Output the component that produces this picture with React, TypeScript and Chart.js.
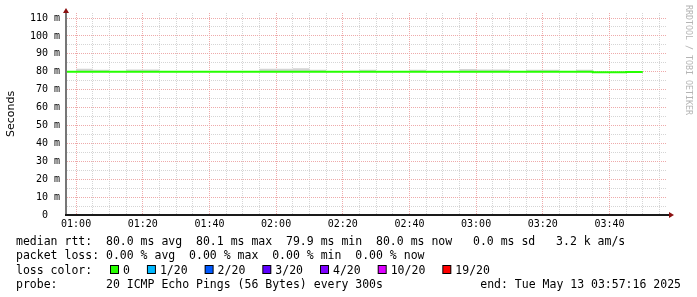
import React, { useEffect, useRef } from 'react';
import { Chart, registerables } from 'chart.js';

Chart.register(...registerables);

// ---- data ----
const timeLabels = [
  '00:55', '01:00', '01:05', '01:10', '01:15', '01:20', '01:25', '01:30', '01:35', '01:40', '01:45', '01:50',
  '01:55', '02:00', '02:05', '02:10', '02:15', '02:20', '02:25', '02:30', '02:35', '02:40', '02:45', '02:50',
  '02:55', '03:00', '03:05', '03:10', '03:15', '03:20', '03:25', '03:30', '03:35', '03:40', '03:45', '03:50',
];
const medianRtt = [
  80, 80, 80, 80, 80, 80, 80, 80, 80, 80, 80, 80,
  80, 80, 80, 80, 80, 80, 80, 80, 80, 80, 80, 80,
  80, 80, 80, 80, 80, 80, 80, 80, 79.7, 79.7, 79.8, 79.8,
];
const smokeMax = [
  80, 81.7, 81.1, 80, 81.3, 81.3, 80, 80, 80, 80, 80, 80,
  81.7, 81.7, 81.9, 81.1, 80, 80, 81.1, 80, 80, 81.1, 80, 80,
  81.5, 81.3, 81.2, 80, 81.1, 81.1, 80, 81.1, 79.7, 79.7, 79.8, 79.8,
];
const xMajorLabels = ['01:00', '01:20', '01:40', '02:00', '02:20', '02:40', '03:00', '03:20', '03:40'];
const yTickValues = [0, 5, 10, 15, 20, 25, 30, 35, 40, 45, 50, 55, 60, 65, 70, 75, 80, 85, 90, 95, 100, 105, 110];
const startTime = '00:57:16';
const endTime = '03:57:16';

const legendRtt = 'median rtt:  80.0 ms avg  80.1 ms max  79.9 ms min  80.0 ms now   0.0 ms sd   3.2 k am/s';
const legendLoss = 'packet loss: 0.00 % avg  0.00 % max  0.00 % min  0.00 % now';
const lossLabels = ['0', '1/20', '2/20', '3/20', '4/20', '10/20', '19/20'];
const lossColors = ['#26ff00', '#00b8ff', '#0059ff', '#5e00ff', '#7e00ff', '#dd00ff', '#ff0000'];
const probeText = '20 ICMP Echo Pings (56 Bytes) every 300s';
const endText = 'end: Tue May 13 03:57:16 2025';

// ---- helpers ----
const toMin = (s: string) => {
  const p = s.split(':').map(Number);
  return p[0] * 60 + p[1] + (p[2] || 0) / 60;
};
const X_MIN = toMin(startTime);
const X_MAX = toMin(endTime);
const xTickValues: number[] = [];
for (let v = Math.ceil(X_MIN / 5) * 5; v < X_MAX; v += 5) xTickValues.push(v);
const majorSet = new Set(xMajorLabels.map(toMin));

const MAJOR = '#eeaaaa';
const MINOR = '#d5d5d5';
const MONO = '"DejaVu Sans Mono", monospace';

const decorPlugin = {
  id: 'rrdDecor',
  beforeDraw(chart: any) {
    const ctx = chart.ctx;
    ctx.save();
    ctx.fillStyle = '#ffffff';
    ctx.fillRect(0, 0, chart.width, chart.height);
    ctx.restore();
  },
  afterDatasetsDraw(chart: any) {
    const ctx = chart.ctx;
    const a = chart.chartArea;
    ctx.save();
    // axes
    ctx.fillStyle = '#777777';
    ctx.fillRect(a.left - 2, a.top, 2, a.bottom - a.top + 1);
    ctx.fillStyle = '#1a1a1a';
    ctx.fillRect(a.left - 2, a.bottom - 1, a.right - a.left + 4, 2);
    // arrows
    ctx.fillStyle = '#8b1010';
    ctx.beginPath();
    ctx.moveTo(a.left - 1, a.top - 5);
    ctx.lineTo(a.left - 4, a.top);
    ctx.lineTo(a.left + 2, a.top);
    ctx.closePath();
    ctx.fill();
    ctx.beginPath();
    ctx.moveTo(a.right + 7, a.bottom);
    ctx.lineTo(a.right + 2, a.bottom - 3);
    ctx.lineTo(a.right + 2, a.bottom + 3);
    ctx.closePath();
    ctx.fill();
    ctx.restore();
  },
  afterDraw(chart: any) {
    const ctx = chart.ctx;
    const a = chart.chartArea;
    ctx.save();
    // y title
    ctx.fillStyle = '#000';
    ctx.font = '11px "DejaVu Sans", sans-serif';
    ctx.textAlign = 'center';
    ctx.textBaseline = 'middle';
    ctx.translate(11, (a.top + a.bottom) / 2);
    ctx.rotate(-Math.PI / 2);
    ctx.fillText('Seconds', 0, 0);
    ctx.restore();

    ctx.save();
    ctx.fillStyle = '#b4b4b4';
    ctx.font = '8.3px ' + MONO;
    ctx.textAlign = 'left';
    ctx.textBaseline = 'middle';
    ctx.translate(688, 5);
    ctx.rotate(Math.PI / 2);
    ctx.fillText('RRDTOOL / TOBI OETIKER', 0, 0);
    ctx.restore();

    ctx.save();
    ctx.fillStyle = '#000';
    ctx.font = '11.5px ' + MONO;
    ctx.textBaseline = 'alphabetic';
    ctx.textAlign = 'left';
    const rows = [245, 259.3, 273.5, 287.7];
    ctx.fillText(legendRtt, 16, rows[0]);
    ctx.fillText(legendLoss, 16, rows[1]);
    ctx.fillText('loss color:', 16, rows[2]);
    let x = 110;
    for (let i = 0; i < lossLabels.length; i++) {
      ctx.fillStyle = '#000';
      ctx.fillRect(x, 265, 9, 9);
      ctx.fillStyle = lossColors[i];
      ctx.fillRect(x + 1, 266, 7, 7);
      ctx.fillStyle = '#000';
      ctx.fillText(lossLabels[i], x + 13, rows[2]);
      x += 30 + ctx.measureText(lossLabels[i]).width;
    }
    ctx.fillText('probe:', 16, rows[3]);
    ctx.fillText(probeText, 16 + 13 * ctx.measureText('0').width, rows[3]);
    ctx.textAlign = 'right';
    ctx.fillText(endText, 681, rows[3]);
    ctx.restore();
  },
};

export default function App() {
  const ref = useRef<HTMLCanvasElement | null>(null);
  useEffect(() => {
    if (!ref.current) return;
    const xs = timeLabels.map(toMin);
    const chart = new Chart(ref.current, {
      type: 'line',
      data: {
        datasets: [
          {
            label: 'median',
            data: xs.map((x, i) => ({ x, y: medianRtt[i] })),
            borderColor: '#26ff00',
            borderWidth: 2,
            pointRadius: 0,
            stepped: 'before',
            fill: false,
          },
          {
            label: 'smoke',
            data: xs.map((x, i) => ({ x, y: smokeMax[i] })),
            borderColor: 'rgba(0,0,0,0)',
            borderWidth: 0,
            backgroundColor: '#d4d4d4',
            pointRadius: 0,
            stepped: 'before',
            fill: '-1',
          },
        ],
      },
      options: {
        responsive: false,
        animation: false,
        devicePixelRatio: 1,
        layout: { padding: { top: 13, right: 30, left: 0, bottom: 0 } },
        plugins: { legend: { display: false }, tooltip: { enabled: false }, title: { display: false } },
        scales: {
          x: {
            type: 'linear',
            min: X_MIN,
            max: X_MAX,
            afterBuildTicks: (s: any) => {
              s.ticks = xTickValues.map((v) => ({ value: v }));
            },
            afterFit: (s: any) => {
              s.height = 82;
            },
            grid: {
              color: (c: any) => (c.tick && majorSet.has(c.tick.value) ? MAJOR : MINOR),
              lineWidth: 1,
              drawTicks: false,
            },
            border: { display: false, dash: [1, 1] },
            ticks: {
              autoSkip: false,
              maxRotation: 0,
              minRotation: 0,
              padding: 3,
              color: '#000',
              font: { family: MONO, size: 10 },
              callback: (v: any) => {
                if (!majorSet.has(v)) return '';
                const h = Math.floor(v / 60);
                const m = Math.round(v % 60);
                return String(h).padStart(2, '0') + ':' + String(m).padStart(2, '0');
              },
            },
          },
          y: {
            type: 'linear',
            min: 0,
            max: (110 * 202) / 197,
            afterBuildTicks: (s: any) => {
              s.ticks = yTickValues.map((v) => ({ value: v }));
            },
            afterFit: (s: any) => {
              s.width = 67;
            },
            grid: {
              color: (c: any) => (c.tick && c.tick.value % 10 === 0 ? MAJOR : MINOR),
              lineWidth: 1,
              drawTicks: false,
            },
            border: { display: false, dash: [1, 1] },
            ticks: {
              autoSkip: false,
              padding: 7,
              color: '#000',
              font: { family: MONO, size: 10 },
              callback: (v: any) => (v % 10 !== 0 ? '' : v === 0 ? '0  ' : v + ' m'),
            },
          },
        },
      },
      plugins: [decorPlugin],
    } as any);
    return () => chart.destroy();
  }, []);
  return (
    <div style={{ position: 'fixed', left: 0, top: 0, width: 697, height: 297, background: '#fff' }}>
      <canvas ref={ref} width={697} height={297} style={{ display: 'block', width: 697, height: 297 }} />
    </div>
  );
}
